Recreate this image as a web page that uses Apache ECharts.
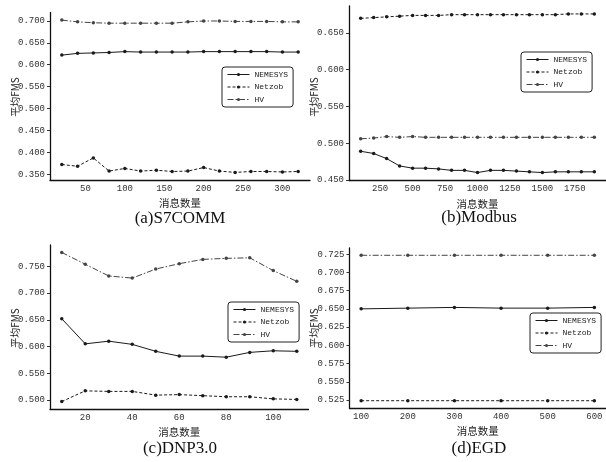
<!DOCTYPE html>
<html>
<head>
<meta charset="utf-8">
<script src="https://cdn.jsdelivr.net/npm/echarts@6/dist/echarts.min.js"></script>
<style>
  html, body { margin: 0; padding: 0; background: #fff; }
  #chart { width: 606px; height: 462px; }
</style>
</head>
<body>
<div id="chart"></div>
<script>
// (a) S7COMM
const xA = [20, 40, 60, 80, 100, 120, 140, 160, 180, 200, 220, 240, 260, 280, 300, 320];
const nemesysA = [0.622, 0.626, 0.627, 0.628, 0.630, 0.629, 0.629, 0.629, 0.629, 0.630, 0.630, 0.630, 0.630, 0.630, 0.629, 0.629];
const netzobA = [0.372, 0.368, 0.387, 0.357, 0.363, 0.357, 0.359, 0.356, 0.357, 0.365, 0.357, 0.354, 0.356, 0.356, 0.355, 0.356];
const hvA = [0.702, 0.698, 0.696, 0.695, 0.695, 0.695, 0.695, 0.695, 0.698, 0.700, 0.700, 0.699, 0.699, 0.699, 0.698, 0.698];

// (b) Modbus
const xB = [100, 200, 300, 400, 500, 600, 700, 800, 900, 1000, 1100, 1200, 1300, 1400, 1500, 1600, 1700, 1800, 1900];
const nemesysB = [0.489, 0.486, 0.479, 0.469, 0.466, 0.466, 0.465, 0.463, 0.463, 0.460, 0.463, 0.463, 0.462, 0.461, 0.460, 0.461, 0.461, 0.461, 0.461];
const netzobB = [0.670, 0.671, 0.672, 0.673, 0.674, 0.674, 0.674, 0.675, 0.675, 0.675, 0.675, 0.675, 0.675, 0.675, 0.675, 0.675, 0.676, 0.676, 0.676];
const hvB = [0.506, 0.507, 0.509, 0.508, 0.509, 0.508, 0.508, 0.508, 0.508, 0.508, 0.508, 0.508, 0.508, 0.508, 0.508, 0.508, 0.508, 0.508, 0.508];

// (c) DNP3.0
const xC = [10, 20, 30, 40, 50, 60, 70, 80, 90, 100, 110];
const nemesysC = [0.652, 0.605, 0.610, 0.604, 0.591, 0.582, 0.582, 0.580, 0.589, 0.592, 0.591];
const netzobC = [0.497, 0.517, 0.516, 0.516, 0.509, 0.510, 0.508, 0.506, 0.506, 0.502, 0.501];
const hvC = [0.776, 0.754, 0.732, 0.728, 0.745, 0.755, 0.763, 0.765, 0.766, 0.742, 0.722];

// (d) EGD
const xD = [100, 200, 300, 400, 500, 600];
const nemesysD = [0.650, 0.651, 0.652, 0.651, 0.651, 0.652];
const netzobD = [0.524, 0.524, 0.524, 0.524, 0.524, 0.524];
const hvD = [0.7235, 0.7235, 0.7235, 0.7235, 0.7235, 0.7235];

// tick labels
const xTicksA = [50, 100, 150, 200, 250, 300];
const yTicksA = [0.35, 0.40, 0.45, 0.50, 0.55, 0.60, 0.65, 0.70];
const xTicksB = [250, 500, 750, 1000, 1250, 1500, 1750];
const yTicksB = [0.45, 0.50, 0.55, 0.60, 0.65];
const xTicksC = [20, 40, 60, 80, 100];
const yTicksC = [0.50, 0.55, 0.60, 0.65, 0.70, 0.75];
const xTicksD = [100, 200, 300, 400, 500, 600];
const yTicksD = [0.525, 0.55, 0.575, 0.60, 0.625, 0.65, 0.675, 0.70, 0.725];

const captions = ["(a)S7COMM", "(b)Modbus", "(c)DNP3.0", "(d)EGD"];
const seriesNames = ["NEMESYS", "Netzob", "HV"];

const panels = [
  { x: xA, ys: [nemesysA, netzobA, hvA], xt: xTicksA, yt: yTicksA, xr: [5, 335], yr: [0.3366, 0.7194],
    grid: { left: 50, top: 12.5, width: 260, height: 167.5 }, legend: { left: 222, top: 67 }, cx: 180, ylx: 15.5, yly: 97, capY: 219 },
  { x: xB, ys: [nemesysB, netzobB, hvB], xt: xTicksB, yt: yTicksB, xr: [10, 1990], yr: [0.4492, 0.6868],
    grid: { left: 349, top: 6, width: 259, height: 174.5 }, legend: { left: 521, top: 52 }, cx: 479, ylx: 314, yly: 97, capY: 218 },
  { x: xC, ys: [nemesysC, netzobC, hvC], xt: xTicksC, yt: yTicksC, xr: [5, 115], yr: [0.48305, 0.78995],
    grid: { left: 50, top: 245, width: 258.5, height: 164 }, legend: { left: 228, top: 302 }, cx: 180, ylx: 15.5, yly: 328, capY: 449 },
  { x: xD, ys: [nemesysD, netzobD, hvD], xt: xTicksD, yt: yTicksD, xr: [75, 625], yr: [0.514, 0.7335],
    grid: { left: 349.5, top: 248, width: 260, height: 160 }, legend: { left: 530, top: 313 }, cx: 479, ylx: 314, yly: 328, capY: 449 }
];

const lineTypes = ["solid", [3, 2], [6, 2, 1.5, 2]];
const lineColors = ["#1a1a1a", "#1a1a1a", "#444"];
const tickFont = { fontFamily: "Liberation Mono", fontSize: 9, color: "#333" };

const chart = echarts.init(document.getElementById("chart"), null, { renderer: "canvas" });

const option = {
  backgroundColor: "#fff",
  animation: false,
  grid: [], xAxis: [], yAxis: [], series: [], legend: [], graphic: []
};

panels.forEach((p, i) => {
  option.grid.push(p.grid);
  option.xAxis.push({
    type: "value", gridIndex: i, min: p.xr[0], max: p.xr[1],
    axisLine: { lineStyle: { color: "#111", width: 1.3 } },
    axisTick: { show: false },
    splitLine: { show: false },
    axisLabel: Object.assign({ customValues: p.xt, margin: 4, formatter: v => String(v) }, tickFont),
    name: "消息数量", nameLocation: "middle", nameGap: 18,
    nameTextStyle: { fontFamily: "Noto Sans CJK SC", fontSize: 10.5, color: "#222" }
  });
  option.yAxis.push({
    type: "value", gridIndex: i, min: p.yr[0], max: p.yr[1],
    axisLine: { show: true, lineStyle: { color: "#111", width: 1.3 } },
    axisTick: { show: true, length: 3, customValues: p.yt, lineStyle: { color: "#333" } },
    splitLine: { show: false },
    axisLabel: Object.assign({ customValues: p.yt, margin: 5, formatter: v => v.toFixed(3) }, tickFont)
  });
  p.ys.forEach((vals, k) => {
    option.series.push({
      name: seriesNames[k], type: "line", xAxisIndex: i, yAxisIndex: i,
      data: p.x.map((xv, j) => [xv, vals[j]]),
      symbol: "circle", symbolSize: 3.5,
      lineStyle: { color: lineColors[k], width: 1, type: lineTypes[k] },
      itemStyle: { color: lineColors[k] }
    });
  });
  option.legend.push({
    left: p.legend.left, top: p.legend.top, orient: "vertical",
    data: seriesNames,
    itemWidth: 22, itemHeight: 4, itemGap: 3.5,
    padding: [3, 5, 3, 5],
    borderColor: "#222", borderWidth: 1, borderRadius: 3,
    backgroundColor: "#fff",
    selectedMode: false,
    lineStyle: { width: 1 },
    itemStyle: { borderWidth: 0 },
    textStyle: { fontFamily: "Liberation Mono", fontSize: 8, lineHeight: 9, color: "#222" }
  });
  option.graphic.push({
    type: "text", x: p.ylx, y: p.yly, rotation: Math.PI / 2,
    style: { text: "平均FMS", font: "10px 'Noto Sans CJK SC'", fill: "#222", align: "center", verticalAlign: "middle" }
  });
  option.graphic.push({
    type: "text", x: p.cx, y: p.capY,
    style: { text: captions[i], font: "17px 'Liberation Serif'", fill: "#111", align: "center", verticalAlign: "middle" }
  });
});

chart.setOption(option);
</script>
</body>
</html>
